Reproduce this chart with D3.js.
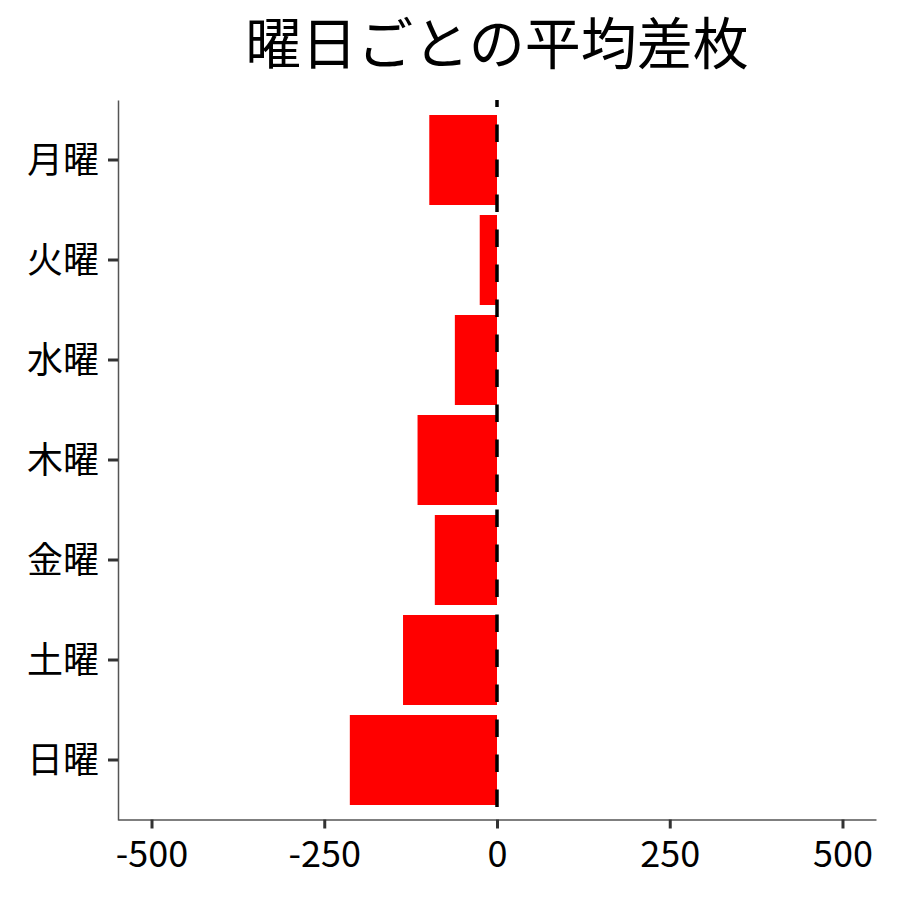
<!DOCTYPE html>
<html lang="ja">
    <head>
        <meta charset="UTF-8" />
        <title>曜日ごとの平均差枚</title>
        <script src="https://d3js.org/d3.v7.js"></script>
    </head>

    <body>
        <div id="dataviz"></div>
    </body>

    <script>
        const days = ["月曜", "火曜", "水曜", "木曜", "金曜", "土曜", "日曜"];
        const diffs = [-98, -25, -61, -115, -90, -136, -213];
        const xTicks = [-500, -250, 0, 250, 500];
        const title = "曜日ごとの平均差枚";

        const W = 900, H = 900;
        const margin = {left: 118, right: 876, top: 100, bottom: 820};

        const svg = d3.select("#dataviz")
            .append("svg")
            .attr("width", W)
            .attr("height", H)
            .style("font-family", "'Noto Sans CJK JP', 'Noto Sans', sans-serif");

        const x = d3.scaleLinear()
            .domain([-548.5, 548.5])
            .range([margin.left, margin.right]);

        const y = d3.scaleBand()
            .domain(days)
            .range([margin.top, margin.bottom])
            .paddingInner(0.1)
            .paddingOuter(0.15);

        // bars
        svg.selectAll(".bar")
            .data(days)
            .join("rect")
            .attr("class", "bar")
            .attr("x", (d, i) => x(Math.min(0, diffs[i])))
            .attr("y", d => y(d))
            .attr("width", (d, i) => Math.abs(x(diffs[i]) - x(0)))
            .attr("height", y.bandwidth())
            .attr("fill", "#ff0000");

        // zero line
        svg.append("line")
            .attr("x1", x(0)).attr("x2", x(0))
            .attr("y1", margin.top).attr("y2", margin.bottom)
            .attr("stroke", "#000")
            .attr("stroke-width", 3.5)
            .attr("stroke-dasharray", "17.5,17.5")
            .attr("stroke-dashoffset", 10.5);

        // axes
        const xAxis = svg.append("g")
            .attr("transform", `translate(0,${margin.bottom - 0.5})`)
            .call(d3.axisBottom(x).tickValues(xTicks).tickSizeInner(9).tickSizeOuter(0)
                .tickPadding(5).tickFormat(d => String(d)));

        const yAxis = svg.append("g")
            .attr("transform", `translate(${margin.left},0)`)
            .call(d3.axisLeft(y).tickSizeInner(10).tickSizeOuter(0).tickPadding(9));

        [xAxis, yAxis].forEach(g => {
            g.select(".domain").attr("stroke", "#555").attr("stroke-width", 1.5);
            g.selectAll(".tick line").attr("stroke", "#333").attr("stroke-width", 3);
            g.selectAll(".tick text")
                .attr("fill", "#000")
                .style("font-size", "36px")
                .style("font-family", "'Noto Sans CJK JP', sans-serif");
        });
        xAxis.selectAll(".tick text").attr("dy", "0.93em");
        yAxis.selectAll(".tick text").attr("dy", "0.36em");

        svg.append("text")
            .attr("x", (margin.left + margin.right) / 2)
            .attr("y", 64)
            .attr("text-anchor", "middle")
            .style("font-size", "56px")
            .attr("fill", "#000")
            .text(title);
    </script>

    <style>
        body { margin: 0; }
        svg { display: block; }
    </style>
</html>
